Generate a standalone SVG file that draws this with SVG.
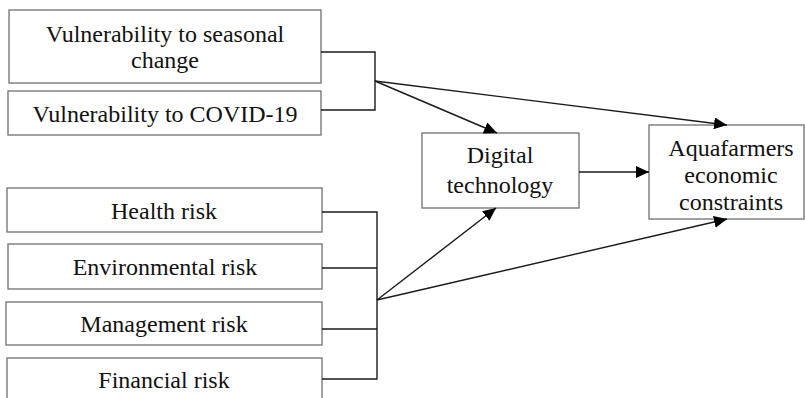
<svg xmlns="http://www.w3.org/2000/svg" width="805" height="398" viewBox="0 0 805 398">
<defs>
<style>
.box{fill:#fff;stroke:#7a7a7a;stroke-width:1.4}
.t{font-family:"Liberation Serif","Times New Roman",serif;font-size:24px;fill:#111;text-anchor:middle}
.c{fill:none;stroke:#1a1a1a;stroke-width:1.4}
</style>
<marker id="ah" viewBox="0 0 13 12" refX="13" refY="6" markerWidth="13" markerHeight="12" markerUnits="userSpaceOnUse" orient="auto">
<path d="M0,0 L13,6 L0,12 Z" fill="#000"/>
</marker>
</defs>
<rect width="805" height="398" fill="#fff"/>
<g id="n1"><rect class="box" x="9" y="10" width="312" height="73"/><text class="t" x="165" y="42">Vulnerability to seasonal</text><text class="t" x="165" y="68">change</text></g>
<g id="n2"><rect class="box" x="8" y="91" width="313" height="44"/><text class="t" x="165" y="122">Vulnerability to COVID-19</text></g>
<g id="n3"><rect class="box" x="7" y="188" width="315" height="44"/><text class="t" x="164" y="219">Health risk</text></g>
<g id="n4"><rect class="box" x="8" y="244" width="314" height="45"/><text class="t" x="165" y="275">Environmental risk</text></g>
<g id="n5"><rect class="box" x="6" y="302" width="316" height="43"/><text class="t" x="164" y="332">Management risk</text></g>
<g id="n6"><rect class="box" x="7" y="358" width="315" height="45"/><text class="t" x="164" y="388">Financial risk</text></g>
<g id="n7"><rect class="box" x="422" y="133" width="157" height="75"/><text class="t" x="500" y="163">Digital</text><text class="t" x="500" y="193">technology</text></g>
<g id="n8"><rect class="box" x="649" y="125" width="155" height="94"/><text class="t" x="731" y="156">Aquafarmers</text><text class="t" x="731" y="183">economic</text><text class="t" x="731" y="210">constraints</text></g>
<g id="connectors">
<path class="c" d="M321,52 H375 V110 H321"/>
<path class="c" d="M322,212 H377 V379 H322 M322,268 H377 M322,329 H377"/>
<line class="c" x1="375" y1="81" x2="497" y2="133" marker-end="url(#ah)"/>
<line class="c" x1="375" y1="81" x2="727" y2="125" marker-end="url(#ah)"/>
<line class="c" x1="579" y1="172" x2="649" y2="172" marker-end="url(#ah)"/>
<line class="c" x1="377" y1="300" x2="496" y2="208" marker-end="url(#ah)"/>
<line class="c" x1="377" y1="300" x2="727" y2="219" marker-end="url(#ah)"/>
</g>
</svg>
